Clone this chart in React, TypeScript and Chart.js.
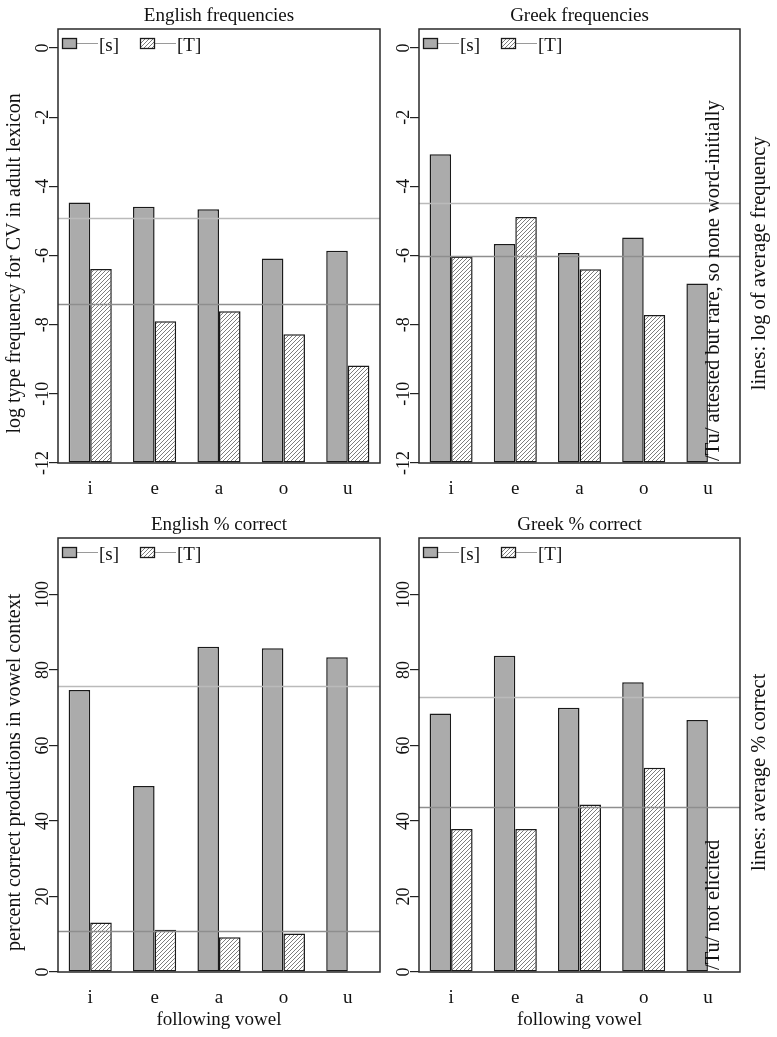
import React, { useEffect, useRef } from "react";
import { Chart, registerables } from "chart.js";

Chart.register(...registerables);

const FONT = '"Liberation Serif", "Times New Roman", serif';

// ---------- data ----------
const vowels = ["i", "e", "a", "o", "u"];
const seriesNames = ["[s]", "[T]"];

const freqTicks = [0, -2, -4, -6, -8, -10, -12];
const pctTicks = [0, 20, 40, 60, 80, 100];

// English frequencies (log type frequency for CV)
const engFreqS = [-4.47, -4.59, -4.66, -6.09, -5.86];
const engFreqT = [-6.39, -7.9, -7.61, -8.28, -9.18];
const engFreqLines = [-4.92, -7.41]; // [s] average, [T] average

// Greek frequencies
const grkFreqS = [-3.07, -5.67, -5.93, -5.48, -6.81];
const grkFreqT = [-6.03, -4.89, -6.4, -7.72, null];
const grkFreqLines = [-4.47, -6.01];

// English % correct
const engPctS = [74.7, 49.3, 86.2, 85.8, 83.4];
const engPctT = [13.1, 11.2, 9.2, 10.2, null];
const engPctLines = [75.8, 10.9];

// Greek % correct
const grkPctS = [68.5, 83.8, 70.0, 76.8, 66.8];
const grkPctT = [37.9, 37.9, 44.4, 54.1, null];
const grkPctLines = [72.9, 43.7];

// ---------- style ----------
const S_FILL = "#ababab";
const BAR_EDGE = "#1a1a1a";
const LINE_COLORS = ["#bababa", "#8e8e8e"];
const TEXT = "#111";
const TICK_LEN = 9;
const SIDE_FRAC = 0.54;

function makeHatch(ctx: CanvasRenderingContext2D) {
  const n = 4;
  const tile = document.createElement("canvas");
  tile.width = n;
  tile.height = n;
  const g = tile.getContext("2d")!;
  g.fillStyle = "#ffffff";
  g.fillRect(0, 0, n, n);
  g.strokeStyle = "#6e6e6e";
  g.lineWidth = 0.9;
  g.beginPath();
  g.moveTo(0, n);
  g.lineTo(n, 0);
  g.moveTo(-1, 1);
  g.lineTo(1, -1);
  g.moveTo(n - 1, n + 1);
  g.lineTo(n + 1, n - 1);
  g.stroke();
  return ctx.createPattern(tile, "repeat")!;
}

type PanelProps = {
  left: number;
  top: number;
  w: number;
  h: number;
  padTop: number;
  padRight: number;
  yWidth: number;
  xHeight: number;
  title: string;
  s: (number | null)[];
  t: (number | null)[];
  lines: number[];
  yMin: number;
  yMax: number;
  ticks: number[];
  yTitle?: string;
  xTitle?: string;
  innerNote?: string;
  outerNote?: string;
};

function drawRotated(
  ctx: CanvasRenderingContext2D,
  text: string,
  x: number,
  y: number,
  size: number,
  align: CanvasTextAlign
) {
  ctx.save();
  ctx.translate(x, y);
  ctx.rotate(-Math.PI / 2);
  ctx.font = `${size}px ${FONT}`;
  ctx.textAlign = align;
  ctx.textBaseline = "middle";
  ctx.fillStyle = TEXT;
  ctx.fillText(text, 0, 0);
  ctx.restore();
}

function Panel(p: PanelProps) {
  const ref = useRef<HTMLCanvasElement>(null);

  useEffect(() => {
    const canvas = ref.current;
    if (!canvas) return;
    const ctx0 = canvas.getContext("2d")!;
    const hatch = makeHatch(ctx0);

    ctx0.font = `18px ${FONT}`;
    const widest = Math.max(...p.ticks.map((v) => ctx0.measureText(String(v)).width));
    const tickPad = 15 - TICK_LEN - widest / 2;

    const decor = {
      id: "panelDecor",
      afterDatasetsDraw(chart: any) {
        const { ctx, chartArea } = chart;
        const { left, right, top, bottom } = chartArea;
        const y = chart.scales.y;
        ctx.save();
        // average lines
        p.lines.forEach((v, i) => {
          const py = Math.round(y.getPixelForValue(v)) + 0.5;
          ctx.strokeStyle = LINE_COLORS[i];
          ctx.lineWidth = 1.3;
          ctx.beginPath();
          ctx.moveTo(left, py);
          ctx.lineTo(right, py);
          ctx.stroke();
        });
        // frame
        ctx.strokeStyle = "#2a2a2a";
        ctx.lineWidth = 1.5;
        ctx.strokeRect(left, top, right - left, bottom - top);
        // title
        ctx.fillStyle = TEXT;
        ctx.font = `19px ${FONT}`;
        ctx.textAlign = "center";
        ctx.textBaseline = "alphabetic";
        ctx.fillText(p.title, (left + right) / 2, top - 8);
        // legend
        const fills = [S_FILL, hatch];
        const offs = [4, 82];
        seriesNames.forEach((name, i) => {
          const x0 = left + offs[i];
          ctx.strokeStyle = "#9a9a9a";
          ctx.lineWidth = 1;
          ctx.beginPath();
          ctx.moveTo(x0 + 14, top + 14.5);
          ctx.lineTo(x0 + 36, top + 14.5);
          ctx.stroke();
          ctx.fillStyle = fills[i];
          ctx.fillRect(x0, top + 9, 14, 10);
          ctx.strokeStyle = BAR_EDGE;
          ctx.lineWidth = 1.3;
          ctx.strokeRect(x0 + 0.5, top + 9.5, 14, 10);
          ctx.fillStyle = TEXT;
          ctx.textAlign = "left";
          ctx.textBaseline = "alphabetic";
          ctx.font = `19px ${FONT}`;
          ctx.fillText(name, x0 + 37, top + 22);
        });
        const sideY = top + SIDE_FRAC * (bottom - top);
        // y-axis title
        if (p.yTitle) drawRotated(ctx, p.yTitle, left - 43, sideY, 20, "center");
        // notes
        if (p.innerNote) drawRotated(ctx, p.innerNote, right - 26, bottom - 2, 20.5, "left");
        if (p.outerNote) drawRotated(ctx, p.outerNote, right + 20, sideY, 20.5, "center");
        ctx.restore();
      },
    };

    const chart = new Chart(canvas, {
      type: "bar",
      data: {
        labels: vowels,
        datasets: [
          {
            label: seriesNames[0],
            data: p.s as any,
            base: p.yMin,
            backgroundColor: S_FILL,
            borderColor: BAR_EDGE,
            borderWidth: 1.5,
            borderSkipped: false,
            categoryPercentage: 0.67,
            barPercentage: 1,
          } as any,
          {
            label: seriesNames[1],
            data: p.t as any,
            base: p.yMin,
            backgroundColor: hatch,
            borderColor: BAR_EDGE,
            borderWidth: 1.5,
            borderSkipped: false,
            categoryPercentage: 0.67,
            barPercentage: 1,
          } as any,
        ],
      },
      options: {
        responsive: false,
        animation: false,
        devicePixelRatio: 1,
        layout: { padding: { top: p.padTop, right: p.padRight, left: 0, bottom: 0 } },
        plugins: {
          legend: { display: false },
          tooltip: { enabled: false },
          title: { display: false },
        },
        scales: {
          x: {
            grid: { display: false },
            border: { display: false },
            ticks: {
              color: TEXT,
              font: { family: FONT, size: 19, lineHeight: 1.2 },
              padding: 7,
              maxRotation: 0,
            },
            title: p.xTitle
              ? {
                  display: true,
                  text: p.xTitle,
                  color: TEXT,
                  font: { family: FONT, size: 19, lineHeight: 1.2 },
                  padding: { top: 0, bottom: 6 },
                }
              : { display: false },
            afterFit: (s: any) => {
              s.height = p.xHeight;
            },
          },
          y: {
            min: p.yMin,
            max: p.yMax,
            afterBuildTicks: (s: any) => {
              s.ticks = p.ticks.map((v) => ({ value: v }));
            },
            grid: {
              display: true,
              drawOnChartArea: false,
              drawTicks: true,
              tickLength: TICK_LEN,
              color: "#222",
              lineWidth: 1.2,
            },
            border: { display: false },
            ticks: {
              minRotation: 90,
              maxRotation: 90,
              crossAlign: "center",
              padding: tickPad,
              color: TEXT,
              font: { family: FONT, size: 18 },
            },
            title: { display: false },
            afterFit: (s: any) => {
              s.width = p.yWidth;
            },
          },
        },
      } as any,
      plugins: [decor],
    });
    return () => chart.destroy();
  }, []);

  return (
    <canvas
      ref={ref}
      width={p.w}
      height={p.h}
      style={{ position: "absolute", left: p.left, top: p.top, width: p.w, height: p.h }}
    />
  );
}

export default function App() {
  return (
    <div
      style={{
        position: "absolute",
        left: 0,
        top: 0,
        width: 777,
        height: 1037,
        background: "#fff",
        overflow: "hidden",
      }}
    >
      <Panel
        left={0}
        top={0}
        w={388}
        h={505}
        padTop={29}
        padRight={8}
        yWidth={58}
        xHeight={42}
        title="English frequencies"
        s={engFreqS}
        t={engFreqT}
        lines={engFreqLines}
        yMin={-12}
        yMax={0.55}
        ticks={freqTicks}
        yTitle="log type frequency for CV in adult lexicon"
      />
      <Panel
        left={385}
        top={0}
        w={392}
        h={505}
        padTop={29}
        padRight={37}
        yWidth={34}
        xHeight={42}
        title="Greek frequencies"
        s={grkFreqS}
        t={grkFreqT}
        lines={grkFreqLines}
        yMin={-12}
        yMax={0.55}
        ticks={freqTicks}
        innerNote="/Tu/ attested but rare, so none word-initially"
        outerNote="lines: log of average frequency"
      />
      <Panel
        left={0}
        top={505}
        w={388}
        h={532}
        padTop={33}
        padRight={8}
        yWidth={58}
        xHeight={65}
        title="English % correct"
        s={engPctS}
        t={engPctT}
        lines={engPctLines}
        yMin={0}
        yMax={115}
        ticks={pctTicks}
        yTitle="percent correct productions in vowel context"
        xTitle="following vowel"
      />
      <Panel
        left={385}
        top={505}
        w={392}
        h={532}
        padTop={33}
        padRight={37}
        yWidth={34}
        xHeight={65}
        title="Greek % correct"
        s={grkPctS}
        t={grkPctT}
        lines={grkPctLines}
        yMin={0}
        yMax={115}
        ticks={pctTicks}
        xTitle="following vowel"
        innerNote="/Tu/ not elicited"
        outerNote="lines: average % correct"
      />
    </div>
  );
}
